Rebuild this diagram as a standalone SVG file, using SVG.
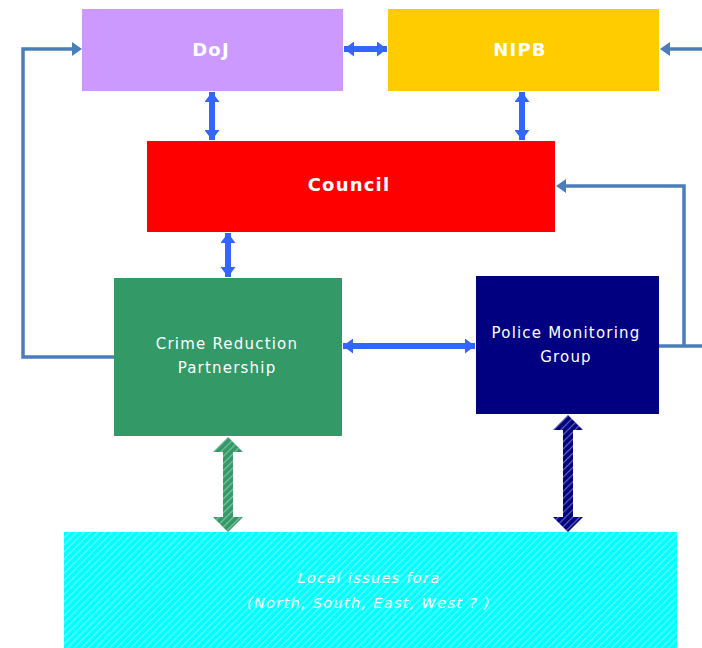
<svg xmlns="http://www.w3.org/2000/svg" width="702" height="648" viewBox="0 0 702 648">
<style>
.lbl{fill:#fff;font-family:"DejaVu Sans","Liberation Sans",sans-serif;text-anchor:middle}
.b{font-weight:bold;font-size:18px;letter-spacing:1.2px}
.r{font-size:15px;letter-spacing:1.2px}
.i{font-size:14.5px;font-style:italic;letter-spacing:1.3px}
.loop{fill:none;stroke:#4a7ebb;stroke-width:3.5}
.dbl{fill:none;stroke:#3366ff;stroke-width:6}
</style>
<defs>
<pattern id="hatch" width="5" height="5" patternUnits="userSpaceOnUse" patternTransform="rotate(45)">
<rect x="0" y="0" width="1.2" height="5" fill="#ffffff" fill-opacity="0.4"/>
</pattern>
<marker id="ba" viewBox="0 0 10 15" refX="10" refY="7.5" markerWidth="10" markerHeight="15" markerUnits="userSpaceOnUse" orient="auto-start-reverse"><path d="M0,0L10,7.5L0,15z" fill="#3366ff"/></marker>
</defs>
<g id="connectors">
<polyline class="loop" points="114,357 23,357 23,49 72,49"/>
<path d="M72,42L82,49L72,56z" fill="#4a7ebb"/>
<polyline class="loop" points="659,346 702,346"/>
<polyline class="loop" points="684,346 684,186 566,186"/>
<path d="M566,179L556,186L566,193z" fill="#4a7ebb"/>
<line class="loop" x1="702" y1="49" x2="670" y2="49"/>
<path d="M670,42L660,49L670,56z" fill="#4a7ebb"/>
<line class="dbl" x1="344" y1="49" x2="387" y2="49" marker-start="url(#ba)" marker-end="url(#ba)"/>
<line class="dbl" x1="212" y1="92" x2="212" y2="140" marker-start="url(#ba)" marker-end="url(#ba)"/>
<line class="dbl" x1="522" y1="92" x2="522" y2="140" marker-start="url(#ba)" marker-end="url(#ba)"/>
<line class="dbl" x1="228" y1="233" x2="228" y2="277" marker-start="url(#ba)" marker-end="url(#ba)"/>
<line class="dbl" x1="343" y1="346" x2="475" y2="346" marker-start="url(#ba)" marker-end="url(#ba)"/>
<g id="arrow-crp-local">
<path d="M228,437L243,452L233,452L233,517L243,517L228,532L213,517L223,517L223,452L213,452z" fill="#339966"/>
<path d="M228,437L243,452L233,452L233,517L243,517L228,532L213,517L223,517L223,452L213,452z" fill="url(#hatch)"/>
</g>
<g id="arrow-pmg-local">
<path d="M568,415L583,430L573,430L573,517L583,517L568,532L553,517L563,517L563,430L553,430z" fill="#000080"/>
<path d="M568,415L583,430L573,430L573,517L583,517L568,532L553,517L563,517L563,430L553,430z" fill="url(#hatch)"/>
</g>
</g>
<g id="doj">
<rect x="82" y="9" width="261" height="82" fill="#cc99ff"/>
<text class="lbl b" x="211" y="56">DoJ</text>
</g>
<g id="nipb">
<rect x="388" y="9" width="271" height="82" fill="#ffcc00"/>
<text class="lbl b" x="520" y="56">NIPB</text>
</g>
<g id="council">
<rect x="147" y="141" width="408" height="91" fill="#ff0000"/>
<text class="lbl b" x="349" y="191">Council</text>
</g>
<g id="crp">
<rect x="114" y="278" width="228" height="158" fill="#339966"/>
<text class="lbl r" x="227" y="349">Crime Reduction</text>
<text class="lbl r" x="227" y="373">Partnership</text>
</g>
<g id="pmg">
<rect x="476" y="276" width="183" height="138" fill="#000080"/>
<text class="lbl r" x="566" y="338">Police Monitoring</text>
<text class="lbl r" x="566" y="362">Group</text>
</g>
<g id="local">
<rect x="64" y="532" width="613" height="116" fill="#00ffff"/>
<rect x="64" y="532" width="613" height="116" fill="url(#hatch)"/>
<text class="lbl i" x="369" y="583">Local issues fora</text>
<text class="lbl i" x="369" y="608">(North, South, East, West ? )</text>
</g>
</svg>
